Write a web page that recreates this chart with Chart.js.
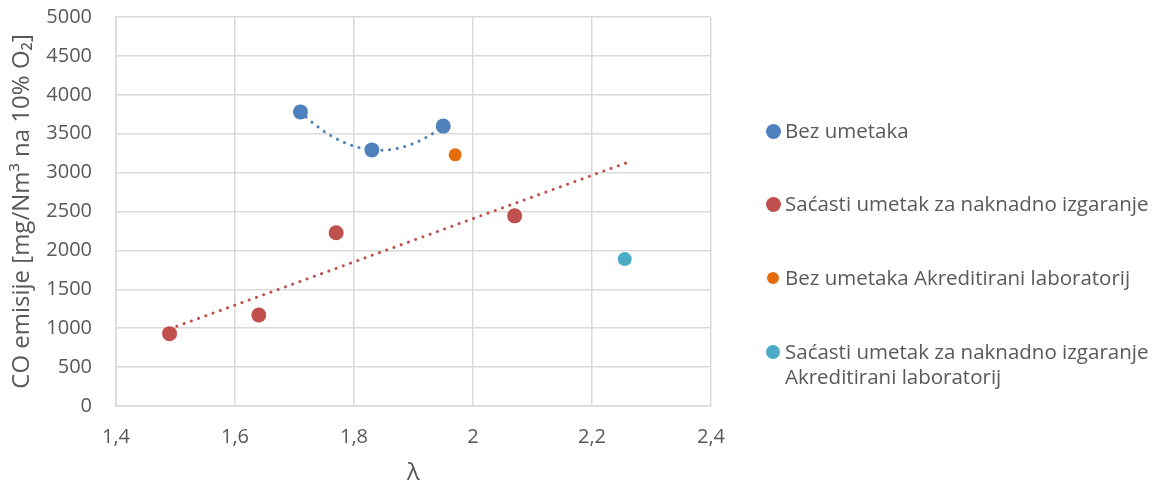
<!DOCTYPE html>
<html lang="hr">
<head>
    <meta charset="utf-8" />
    <title>CO emisije</title>
    <script src="https://cdn.jsdelivr.net/npm/chart.js"></script>
    <style>
      body { margin: 0; background: #fff; }
      .wrap { position: relative; width: 1162px; height: 488px; }
      .legend { position: absolute; left: 773px; top: 0; font-family: "Open Sans", sans-serif; font-size: 20.5px; color: #595959; }
      .legend .item { position: absolute; left: 0; white-space: nowrap; line-height: 25px; }
      .legend .dot { position: absolute; border-radius: 50%; }
      .legend .txt { position: absolute; left: 12px; top: 0; }
    </style>
</head>
<body>
    <div class="wrap">
        <canvas id="coChart"></canvas>
        <div class="legend" id="legend"></div>
    </div>

    <script>
        // --- Données ---
        const bezX = [1.71, 1.83, 1.95];
        const bezY = [3780, 3292, 3598];

        const sacX = [1.49, 1.64, 1.77, 2.07];
        const sacY = [930, 1170, 2226, 2444];

        const bezLabX = [1.97];
        const bezLabY = [3228];

        const sacLabX = [2.255];
        const sacLabY = [1888];

        const xTicks = [1.4, 1.6, 1.8, 2.0, 2.2, 2.4];
        const yTicks = [0, 500, 1000, 1500, 2000, 2500, 3000, 3500, 4000, 4500, 5000];

        const seriesNames = [
            "Bez umetaka",
            "Saćasti umetak za naknadno izgaranje",
            "Bez umetaka Akreditirani laboratorij",
            "Saćasti umetak za naknadno izgaranje\nAkreditirani laboratorij"
        ];
        const colors = ["#4F81BD", "#C0504D", "#E46C0A", "#4BACC6"];

        const sacTrendEnd = 2.26; // trendline prolongée vers l'avant

        const pts = (xs, ys) => xs.map((x, i) => ({ x: x, y: ys[i] }));

        // --- Courbe de tendance linéaire (moindres carrés) ---
        function linearTrend(xs, ys, x0, x1) {
            const n = xs.length;
            const mx = xs.reduce((a, b) => a + b, 0) / n;
            const my = ys.reduce((a, b) => a + b, 0) / n;
            let sxy = 0, sxx = 0;
            xs.forEach((x, i) => { sxy += (x - mx) * (ys[i] - my); sxx += (x - mx) * (x - mx); });
            const k = sxy / sxx, b = my - k * mx;
            return [{ x: x0, y: k * x0 + b }, { x: x1, y: k * x1 + b }];
        }

        // --- Courbe de tendance polynomiale ordre 2 (3 points => parabole exacte) ---
        function polyTrend(xs, ys, steps) {
            const [x1, x2, x3] = xs, [y1, y2, y3] = ys;
            const f = x => y1 * (x - x2) * (x - x3) / ((x1 - x2) * (x1 - x3))
                         + y2 * (x - x1) * (x - x3) / ((x2 - x1) * (x2 - x3))
                         + y3 * (x - x1) * (x - x2) / ((x3 - x1) * (x3 - x2));
            const out = [];
            for (let i = 0; i <= steps; i++) {
                const x = x1 + (x3 - x1) * i / steps;
                out.push({ x: x, y: f(x) });
            }
            return out;
        }

        const fontFam = '"Open Sans", "DejaVu Sans", sans-serif';
        const grey = "#595959";

        function trendSet(data, color) {
            return {
                data: data, showLine: true, pointRadius: 0, pointHoverRadius: 0,
                borderColor: color, borderWidth: 3, borderDash: [0.1, 7.6],
                borderCapStyle: "round", fill: false, tension: 0
            };
        }

        const ctx = document.getElementById("coChart").getContext("2d");
        new Chart(ctx, {
            type: "scatter",
            data: {
                datasets: [
                    trendSet(polyTrend(bezX, bezY, 40), colors[0]),
                    trendSet(linearTrend(sacX, sacY, sacX[0], sacTrendEnd), colors[1]),
                    { label: seriesNames[0], data: pts(bezX, bezY), backgroundColor: colors[0], borderColor: colors[0], pointRadius: 7.5, borderWidth: 0 },
                    { label: seriesNames[1], data: pts(sacX, sacY), backgroundColor: colors[1], borderColor: colors[1], pointRadius: 7.5, borderWidth: 0 },
                    { label: seriesNames[2], data: pts(bezLabX, bezLabY), backgroundColor: colors[2], borderColor: colors[2], pointRadius: 6.5, borderWidth: 0 },
                    { label: seriesNames[3], data: pts(sacLabX, sacLabY), backgroundColor: colors[3], borderColor: colors[3], pointRadius: 7, borderWidth: 0 }
                ]
            },
            options: {
                responsive: true,
                maintainAspectRatio: false,
                animation: false,
                layout: { padding: { left: 0, right: 451, top: 17, bottom: 0 } },
                plugins: { legend: { display: false }, tooltip: { enabled: false } },
                scales: {
                    x: {
                        type: "linear", min: xTicks[0], max: xTicks[xTicks.length - 1],
                        afterBuildTicks: s => { s.ticks = xTicks.map(v => ({ value: v })); },
                        afterFit: s => { s.height = 82; },
                        grid: { color: "#D9D9D9", lineWidth: 1.5, drawTicks: false },
                        border: { color: "#D9D9D9", width: 1.5 },
                        ticks: {
                            padding: 19, color: grey, font: { family: fontFam, size: 20 },
                            callback: v => String(Number(v.toFixed(1))).replace(".", ",")
                        },
                        title: { display: true, text: "λ", color: grey, font: { family: fontFam, size: 24 }, padding: { top: 0, bottom: 0 } }
                    },
                    y: {
                        min: yTicks[0], max: yTicks[yTicks.length - 1],
                        afterBuildTicks: s => { s.ticks = yTicks.map(v => ({ value: v })); },
                        // largeur fixe + pas de marge haut/bas ajoutée par les labels
                        afterFit: s => { s.width = 116; s.paddingTop = 0; s.paddingBottom = 0; },
                        grid: { color: "#D9D9D9", lineWidth: 1.5, drawTicks: false },
                        border: { color: "#D9D9D9", width: 1.5 },
                        ticks: { padding: 24, color: grey, font: { family: fontFam, size: 20 }, callback: v => String(v) },
                        title: { display: true, text: "CO emisije [mg/Nm³ na 10% O₂]", color: grey, font: { family: fontFam, size: 24 }, padding: { top: 8, bottom: 0 } }
                    }
                }
            }
        });

        // --- Légende HTML à droite ---
        const legendTops = [131, 204, 278, 352];
        const dotSizes = [15, 15, 12, 14];
        const legend = document.getElementById("legend");
        seriesNames.forEach((name, i) => {
            const item = document.createElement("div");
            item.className = "item";
            item.style.top = (legendTops[i] - 13) + "px";
            const dot = document.createElement("span");
            dot.className = "dot";
            dot.style.width = dotSizes[i] + "px";
            dot.style.height = dotSizes[i] + "px";
            dot.style.left = (-dotSizes[i] / 2) + "px";
            dot.style.top = (13 - dotSizes[i] / 2) + "px";
            dot.style.background = colors[i];
            const txt = document.createElement("span");
            txt.className = "txt";
            txt.innerHTML = name.replace("\n", "<br>");
            item.appendChild(dot);
            item.appendChild(txt);
            legend.appendChild(item);
        });
    </script>
</body>
</html>
